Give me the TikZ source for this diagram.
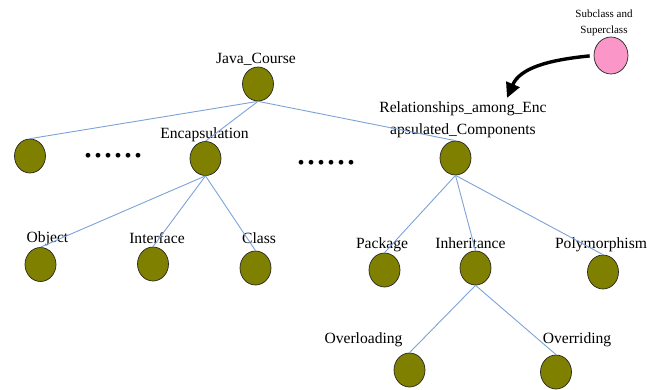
\documentclass[tikz,border=0pt]{standalone}
\usepackage{fontspec}
\setmainfont{Liberation Serif}
\usetikzlibrary{shapes.geometric,arrows.meta}
\definecolor{olivefill}{RGB}{128,128,0}
\definecolor{pinkfill}{RGB}{250,150,200}
\definecolor{edgeblue}{RGB}{125,162,215}
\begin{document}
\begin{tikzpicture}[x=1pt,y=-1pt,
  leaf/.style={ellipse,draw=black!85,line width=0.7pt,fill=olivefill,
    minimum width=31pt,minimum height=34pt,inner sep=0pt},
  note/.style={ellipse,draw=black!85,line width=0.7pt,fill=pinkfill,
    minimum width=34pt,minimum height=37pt,inner sep=0pt},
  lbl/.style={inner sep=0pt,anchor=base,font=\fontsize{15.6}{18}\selectfont},
  biglbl/.style={inner sep=0pt,align=center,font=\fontsize{15.6}{22}\selectfont},
  smalllbl/.style={inner sep=0pt,align=center,font=\fontsize{11}{16}\selectfont},
  ellipsis/.style={inner sep=0pt,anchor=base,font=\fontsize{40}{40}\selectfont},
  link/.style={draw=edgeblue,line width=0.9pt},
  pointer/.style={draw=black,line width=3.4pt,
    -{Triangle[length=15pt,width=14pt]}}]
\useasboundingbox (0,0) rectangle (660,389);

% tree nodes
\node[leaf] (java)  at (258,84) {};
\node[leaf] (first) at (30,156) {};
\node[leaf] (enc)   at (205.5,158.5) {};
\node[leaf] (rel)   at (455.5,158) {};
\node[leaf] (obj)   at (40.5,264.5) {};
\node[leaf] (iface) at (153,264) {};
\node[leaf] (cls)   at (255.5,268) {};
\node[leaf] (pkg)   at (384.5,270) {};
\node[leaf] (inh)   at (475.5,268) {};
\node[leaf] (poly)  at (603,272) {};
\node[leaf] (ovl)   at (409.5,370) {};
\node[leaf] (ovr)   at (556,372) {};
\node[note] (sub)   at (611,55.5) {};

% labels
\node[lbl] (tjava)  at (256,63)    {Java\_Course};
\node[lbl] (tenc)   at (204.5,138) {Encapsulation};
\node[biglbl] (trel) at (463,120)  {Relationships\_among\_Enc\\apsulated\_Components};
\node[lbl] (tobj)   at (47.5,242)  {Object};
\node[lbl] (tiface) at (157,243)   {Interface};
\node[lbl] (tcls)   at (259,243)   {Class};
\node[lbl] (tpkg)   at (382,248)   {Package};
\node[lbl] (tinh)   at (470.5,248) {Inheritance};
\node[lbl] (tpoly)  at (601,248)   {Polymorphism};
\node[lbl] (tovl)   at (363.5,343) {Overloading};
\node[lbl] (tovr)   at (577,343)   {Overriding};
\node[smalllbl] (tsub) at (604,22.5) {Subclass and\\Superclass};

% elided siblings
\node[ellipsis] (dotsA) at (113,157) {......};
\node[ellipsis] (dotsB) at (326,164) {......};

% tree edges
\draw[link] (java.south) -- (first.north);
\draw[link] (java.south) -- (enc.north);
\draw[link] (java.south) -- (rel.north);
\draw[link] (enc.south) -- (obj.north);
\draw[link] (enc.south) -- (iface.north);
\draw[link] (enc.south) -- (cls.north);
\draw[link] (rel.south) -- (pkg.north);
\draw[link] (rel.south) -- (inh.north);
\draw[link] (rel.south) -- (poly.north);
\draw[link] (inh.south) -- (ovl.north);
\draw[link] (inh.south) -- (ovr.north);

% curved pointer from the note
\coordinate (tip) at (507,98);
\draw[pointer,shorten <=4pt] (sub.west) .. controls (548,60) and (520,68) .. (tip);
\end{tikzpicture}
\end{document}
